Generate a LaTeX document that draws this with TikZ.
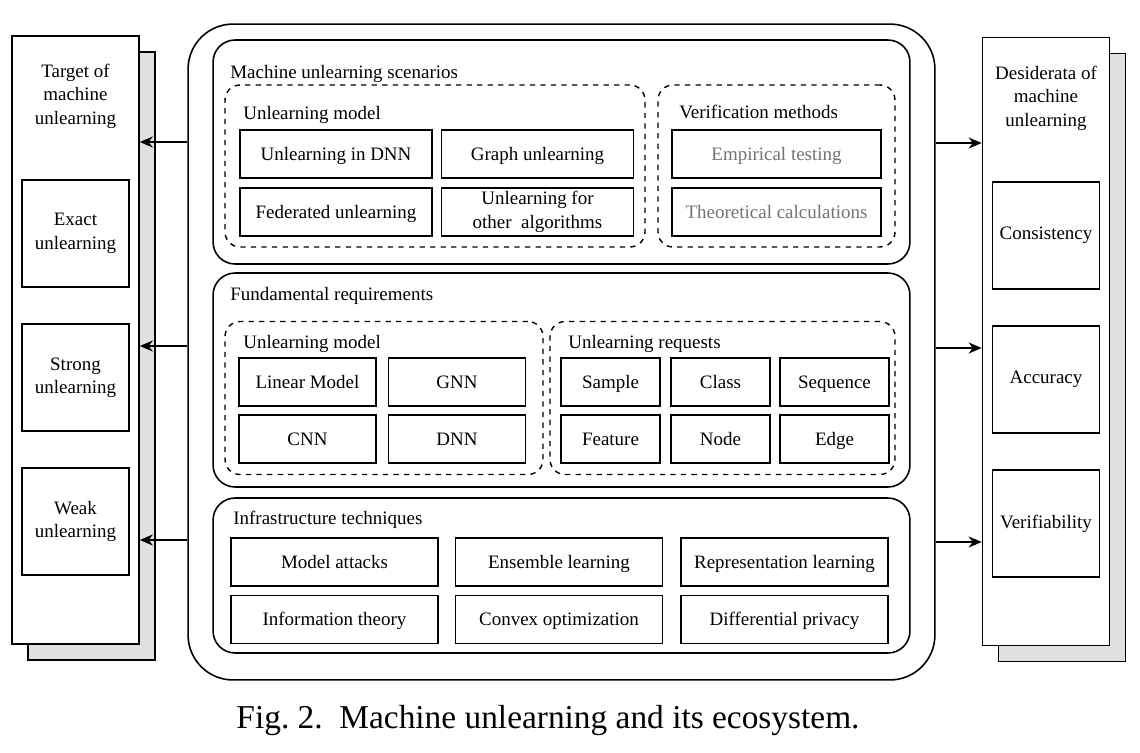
\documentclass[tikz,border=0pt]{standalone}
\usepackage{fontspec}
\setmainfont{Liberation Serif}
\usetikzlibrary{positioning,fit,arrows.meta,shadows}

\begin{document}
\begin{tikzpicture}[
    x=0.02cm, y=-0.02cm,
    font=\fontsize{10.8}{13.3}\selectfont,
    ecosystem/.style={rectangle, draw, line width=0.9pt, rounded corners=0.9cm, minimum width=14.94cm, minimum height=13.12cm},
    layer/.style={rectangle, draw, line width=0.9pt, rounded corners=0.44cm, minimum width=13.94cm},
    group/.style={rectangle, draw, dashed, line width=0.8pt, rounded corners=0.3cm, minimum height=3.1cm},
    cell/.style={rectangle, draw, line width=0.9pt, minimum height=0.96cm, align=center, inner sep=1pt},
    item/.style={cell, text height=2ex, text depth=0.45ex},
    greyitem/.style={item, text=black!55},
    side/.style={rectangle, draw, line width=0.9pt, fill=white, minimum width=2.54cm, minimum height=12.16cm,
        copy shadow={shadow xshift=0.32cm, shadow yshift=-0.32cm, fill=black!12, draw=black, line width=0.9pt}},
    square/.style={rectangle, draw, line width=0.9pt, minimum width=2.14cm, minimum height=2.14cm, inner sep=0pt, align=center},
    heading/.style={anchor=base west, inner sep=0pt},
    arrow/.style={-{Stealth[length=2.6mm, width=2.2mm, inset=0.8mm]}, line width=0.9pt}
]
\useasboundingbox (0,0) rectangle (1140,752);

% Ecosystem frame
\node[ecosystem] (eco) at (561.5,352) {};

% Machine unlearning scenarios
\node[layer, minimum height=4.48cm] (scen) at (561.5,152) {};
\node[heading] (scentitle) at (230,78) {Machine unlearning scenarios};
\node[group, minimum width=8.4cm, minimum height=3.24cm] (smodel) at (435,166) {};
\node[heading] (smodeltitle) at (243,119) {Unlearning model};
\node[item, minimum width=3.84cm] (dnnul) at (336,154) {Unlearning in DNN};
\node[item, minimum width=3.84cm] (graphul) at (537.5,154) {Graph unlearning};
\node[item, minimum width=3.84cm] (fedul) at (336,212) {Federated unlearning};
\node[cell, minimum width=3.84cm] (otherul) at (537.5,212) {Unlearning for\\other\ \ algorithms};
\node[group, minimum width=4.74cm, minimum height=3.24cm] (verify) at (776.5,166) {};
\node[heading] (verifytitle) at (679,118) {Verification methods};
\node[greyitem, minimum width=4.18cm] (empirical) at (776.5,154) {Empirical testing};
\node[greyitem, minimum width=4.18cm] (theory) at (776.5,212) {Theoretical calculations};

% Fundamental requirements
\node[layer, minimum height=4.28cm] (req) at (561.5,380) {};
\node[heading] (reqtitle) at (230,300) {Fundamental requirements};
\node[group, minimum width=6.36cm, minimum height=3.06cm] (rmodel) at (384,398) {};
\node[heading] (rmodeltitle) at (243,348) {Unlearning model};
\node[item, minimum width=2.74cm] (linear) at (307.5,382) {Linear Model};
\node[item, minimum width=2.74cm] (gnn) at (457,382) {GNN};
\node[item, minimum width=2.74cm] (cnn) at (307.5,439) {CNN};
\node[item, minimum width=2.74cm] (dnn) at (457,439) {DNN};
\node[group, minimum width=6.9cm, minimum height=3.06cm] (requests) at (722.5,398) {};
\node[heading] (requeststitle) at (568,348) {Unlearning requests};
\node[item, minimum width=1.98cm] (sample) at (610.5,382) {Sample};
\node[item, minimum width=1.98cm] (class) at (720.5,382) {Class};
\node[item, minimum width=2.18cm] (sequence) at (834.5,382) {Sequence};
\node[item, minimum width=1.98cm] (feature) at (610.5,439) {Feature};
\node[item, minimum width=1.98cm] (nodereq) at (720.5,439) {Node};
\node[item, minimum width=2.18cm] (edge) at (834.5,439) {Edge};

% Infrastructure techniques
\node[layer, minimum height=3.1cm] (tech) at (561.5,575.5) {};
\node[heading] (techtitle) at (233,524) {Infrastructure techniques};
\node[item, minimum width=4.14cm] (attacks) at (334.5,562) {Model attacks};
\node[item, minimum width=4.14cm] (ensemble) at (559,562) {Ensemble learning};
\node[item, minimum width=4.14cm] (represent) at (784.5,562) {Representation learning};
\node[item, minimum width=4.14cm] (infotheory) at (334.5,619.5) {Information theory};
\node[item, minimum width=4.14cm] (convex) at (559,619.5) {Convex optimization};
\node[item, minimum width=4.14cm] (privacy) at (784.5,619.5) {Differential privacy};

% Target of machine unlearning
\node[side] (target) at (75.5,340) {};
\node[align=center, anchor=north] (targettitle) at (75.5,58) {Target of\\machine\\unlearning};
\node[square] (exact) at (75.5,233.5) {Exact\\unlearning};
\node[square] (strong) at (75.5,377.5) {Strong\\unlearning};
\node[square] (weak) at (75.5,521.5) {Weak\\unlearning};

% Desiderata of machine unlearning
\node[side] (desiderata) at (1046,341.5) {};
\node[align=center, anchor=north] (desideratatitle) at (1046,60) {Desiderata of\\machine\\unlearning};
\node[square] (consistency) at (1046,235.5) {Consistency};
\node[square] (accuracy) at (1046,379.5) {Accuracy};
\node[square] (verifiability) at (1046,523.5) {Verifiability};

% Arrows out of the ecosystem
\draw[arrow] (eco.west |- 0,142) -- (target.east |- 0,142);
\draw[arrow] (eco.west |- 0,346) -- (target.east |- 0,346);
\draw[arrow] (eco.west |- 0,540) -- (target.east |- 0,540);
\draw[arrow] (eco.east |- 0,143) -- (desiderata.west |- 0,143);
\draw[arrow] (eco.east |- 0,348) -- (desiderata.west |- 0,348);
\draw[arrow] (eco.east |- 0,542) -- (desiderata.west |- 0,542);

% Caption
\node[font=\fontsize{19}{21}\selectfont] (caption) at (548,721) {Fig.~2.\ \ Machine unlearning and its ecosystem.};

\end{tikzpicture}
\end{document}
